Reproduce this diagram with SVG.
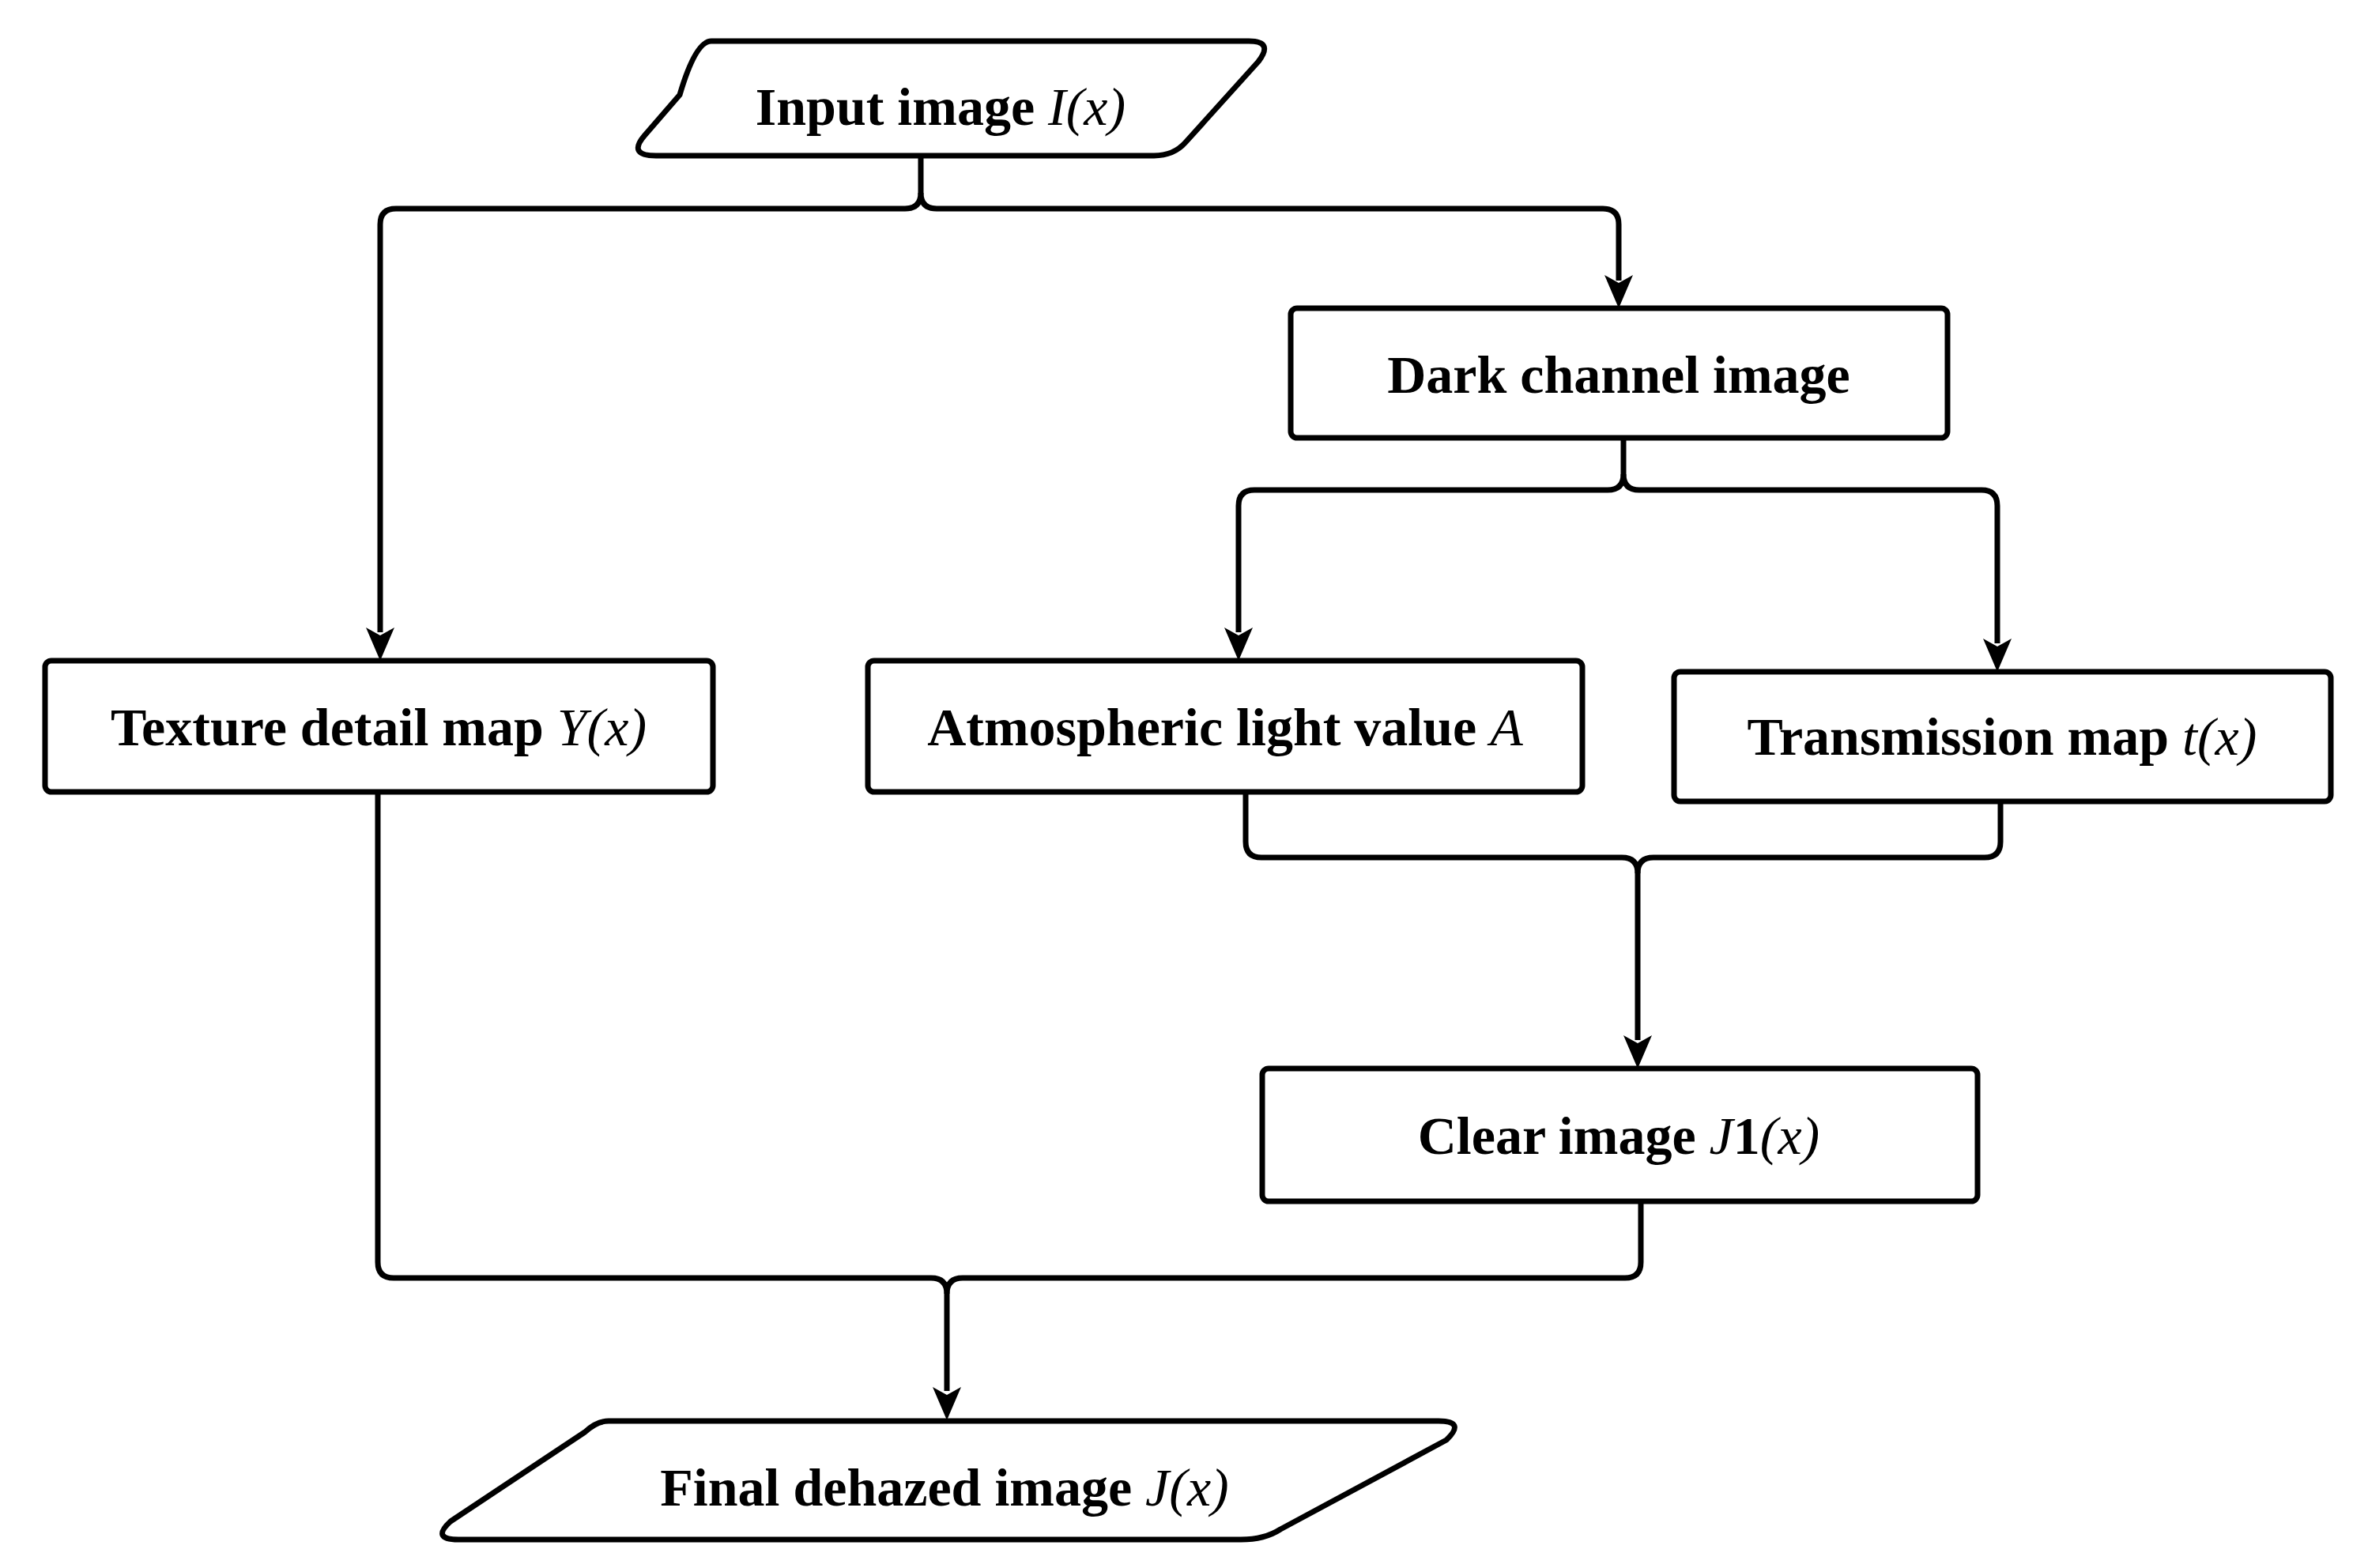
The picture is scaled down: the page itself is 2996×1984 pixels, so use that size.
<svg xmlns="http://www.w3.org/2000/svg" width="2996" height="1984" viewBox="0 0 2996 1984">
<style>
.n{fill:#fff;stroke:#000;stroke-width:7;stroke-linejoin:round}
.c{fill:none;stroke:#000;stroke-width:7}
text{font-family:"Liberation Serif","Times New Roman",serif;font-weight:bold;font-size:68px;text-anchor:middle;fill:#000}
.m{font-style:italic;font-weight:normal}
</style>
<defs><marker id="a" markerWidth="10" markerHeight="10" refX="8" refY="5" orient="auto" markerUnits="userSpaceOnUse" viewBox="0 0 10 10"><path d="M0,0L10,5L0,10L3,5z" fill="#000"/></marker></defs>
<rect width="2996" height="1984" fill="#fff"/>
<g id="connectors">
<path class="c" d="M1165,197V244Q1165,264 1145,264H501Q481,264 481,284V800"/>
<path class="c" d="M1165,244Q1165,264 1185,264H2028Q2048,264 2048,284V355"/>
<path class="c" d="M2054,554V600Q2054,620 2034,620H1587Q1567,620 1567,640V800"/>
<path class="c" d="M2054,600Q2054,620 2074,620H2507Q2527,620 2527,640V814"/>
<path class="c" d="M1576,1002V1065Q1576,1085 1596,1085H2052Q2072,1085 2072,1105V1316"/>
<path class="c" d="M2531,1014V1065Q2531,1085 2511,1085H2092Q2072,1085 2072,1105"/>
<path class="c" d="M478,1002V1597Q478,1617 498,1617H1178Q1198,1617 1198,1637V1760"/>
<path class="c" d="M2076,1520V1597Q2076,1617 2056,1617H1218Q1198,1617 1198,1637"/>
<path d="M1198,1797l-18,-42l18,10l18,-10z M481,836l-18,-42l18,10l18,-10z M2048,390l-18,-42l18,10l18,-10z M1567,836l-18,-42l18,10l18,-10z M2527,850l-18,-42l18,10l18,-10z M2072,1352l-18,-42l18,10l18,-10z"/>
</g>
<g id="input"><path class="n" d="M900,52H1580Q1612,52 1592,78L1500,180Q1485,197 1460,197H830Q794,197 815,172L860,120Q880,52 900,52Z"/><text x="1190" y="158">Input image <tspan class="m">I</tspan><tspan class="m">(x)</tspan></text></g>
<g id="dark"><rect class="n" x="1633" y="390" width="831" height="164" rx="8"/><text x="2048" y="497">Dark channel image</text></g>
<g id="texture"><rect class="n" x="57" y="836" width="845" height="166" rx="8"/><text x="479" y="943">Texture detail map <tspan class="m">Y(x)</tspan></text></g>
<g id="atmos"><rect class="n" x="1098" y="836" width="904" height="166" rx="8"/><text x="1550" y="943">Atmospheric light value <tspan class="m">A</tspan></text></g>
<g id="trans"><rect class="n" x="2118" y="850" width="831" height="164" rx="8"/><text x="2533" y="955">Transmission map <tspan class="m">t(x)</tspan></text></g>
<g id="clear"><rect class="n" x="1597" y="1352" width="905" height="168" rx="8"/><text x="2048" y="1460">Clear image <tspan class="m">J</tspan>1<tspan class="m">(x)</tspan></text></g>
<g id="final"><path class="n" d="M770,1798H1820Q1855,1798 1830,1822L1620,1935Q1600,1948 1570,1948H580Q545,1948 570,1925L740,1812Q755,1798 770,1798Z"/><text x="1195" y="1905">Final dehazed image <tspan class="m">J(x)</tspan></text></g>
</svg>
